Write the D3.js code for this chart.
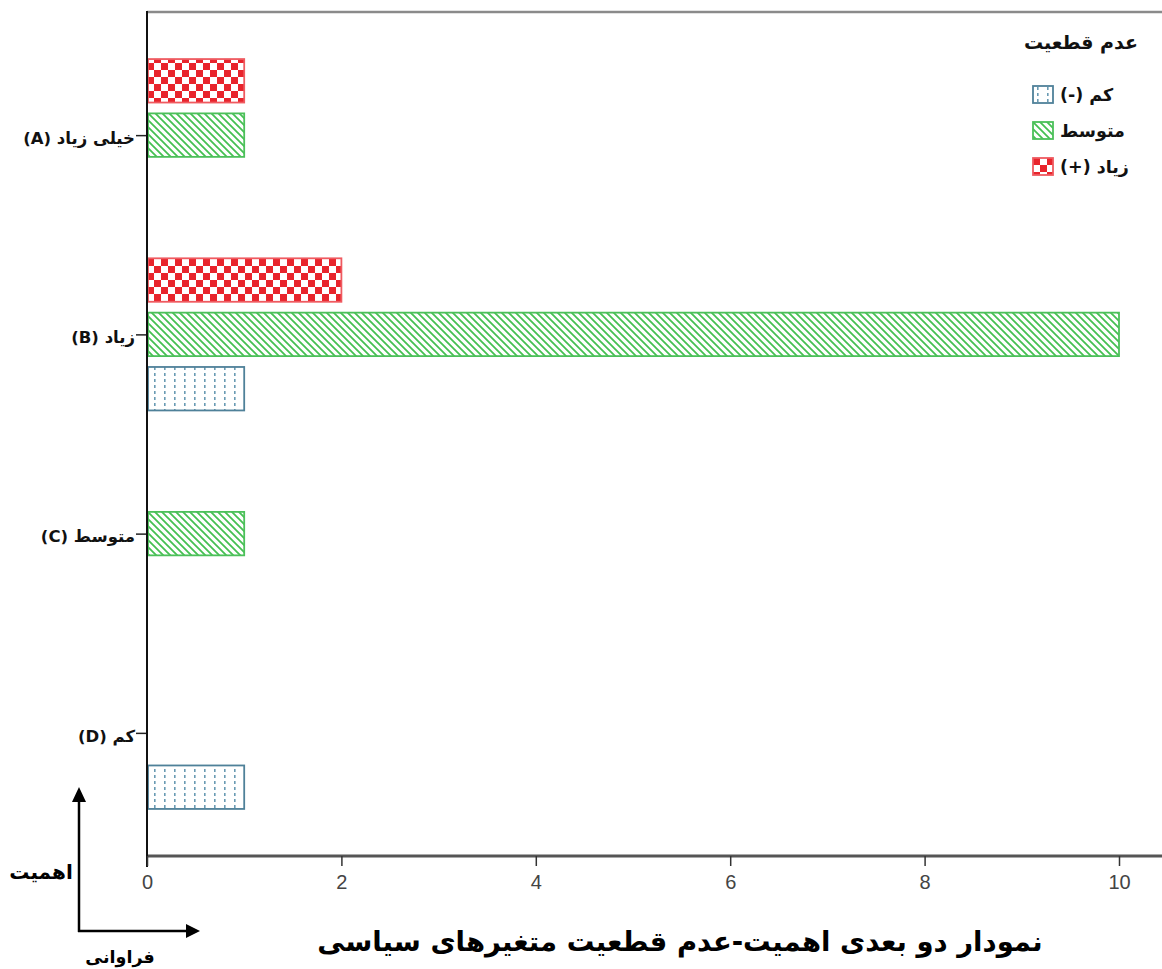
<!DOCTYPE html>
<html><head><meta charset="utf-8">
<script src="https://cdn.jsdelivr.net/npm/d3@7"></script>
<style>
body{margin:0;background:#fff;}
svg{display:block;}
</style></head>
<body>
<svg id="c" width="1162" height="969"></svg>
<script>
// ---- data ----
const categories = ["خیلی زیاد (A)", "زیاد (B)", "متوسط (C)", "کم (D)"];
const seriesNames = ["زیاد (+)", "متوسط", "کم (-)"];   // top-to-bottom within each category
const legendOrder = ["کم (-)", "متوسط", "زیاد (+)"];
const valuesHigh = [1, 2, 0, 0];     // زیاد (+)
const valuesMid  = [1, 10, 1, 0];    // متوسط
const valuesLow  = [0, 1, 0, 1];     // کم (-)
const xTicks = [0, 2, 4, 6, 8, 10];
const legendTitle = "عدم قطعیت";
const chartTitle = "نمودار دو بعدی اهمیت-عدم قطعیت متغیرهای سیاسی";
const yArrowLabel = "اهمیت";
const xArrowLabel = "فراوانی";

const seriesValues = {"زیاد (+)": valuesHigh, "متوسط": valuesMid, "کم (-)": valuesLow};

(function(){
const svg = d3.select("#c");
const defs = svg.append("defs");
const FA = "'DejaVu Sans', sans-serif";

// patterns
const pRed = defs.append("pattern").attr("id","pRed").attr("patternUnits","userSpaceOnUse")
  .attr("width",14).attr("height",14);
pRed.append("rect").attr("width",14).attr("height",14).attr("fill","#fff");
pRed.append("rect").attr("x",0).attr("y",0).attr("width",7).attr("height",7).attr("fill","#e8242c");
pRed.append("rect").attr("x",7).attr("y",7).attr("width",7).attr("height",7).attr("fill","#e8242c");

const pGreen = defs.append("pattern").attr("id","pGreen").attr("patternUnits","userSpaceOnUse")
  .attr("width",7).attr("height",7);
pGreen.append("rect").attr("width",7).attr("height",7).attr("fill","#fff");
pGreen.append("path").attr("d","M-1,-1 L8,8 M-8,-1 L1,8 M6,-1 L15,8").attr("stroke","#45c052").attr("stroke-width",1.8);

const pBlue = defs.append("pattern").attr("id","pBlue").attr("patternUnits","userSpaceOnUse")
  .attr("width",10).attr("height",6);
pBlue.append("rect").attr("width",10).attr("height",6).attr("fill","#fff");
pBlue.append("rect").attr("x",4).attr("y",1).attr("width",1.6).attr("height",3).attr("fill","#6a9bb3");

const fills = {"زیاد (+)": "url(#pRed)", "متوسط": "url(#pGreen)", "کم (-)": "url(#pBlue)"};
const strokes = {"زیاد (+)": "#ef5a60", "متوسط": "#4cc05a", "کم (-)": "#4f8199"};

// scales
const left = 147, plotTop = 12, plotBottom = 856;
const x = d3.scaleLinear().domain([0, 10]).range([left, 1119]);
const y = d3.scalePoint().domain(categories).range([plotTop, plotBottom]).padding(0.618);
const sub = d3.scaleBand().domain(seriesNames).range([-81.5, 81.5]).paddingInner(0.2).paddingOuter(0.1);

// frame lines
svg.append("line").attr("x1",left).attr("x2",1162).attr("y1",plotTop).attr("y2",plotTop)
  .attr("stroke","#8a8a8a").attr("stroke-width",2.5);
svg.append("line").attr("x1",left).attr("x2",1162).attr("y1",plotBottom).attr("y2",plotBottom)
  .attr("stroke","#555").attr("stroke-width",3);

// bars
const rows = [];
categories.forEach((c,i)=>{
  seriesNames.forEach(s=>{
    const v = seriesValues[s][i];
    if (v > 0) rows.push({c, s, v});
  });
});
svg.append("g").selectAll("rect").data(rows).join("rect")
  .attr("x", x(0)+1)
  .attr("y", d => y(d.c) + sub(d.s))
  .attr("width", d => x(d.v) - x(0) - 1)
  .attr("height", sub.bandwidth())
  .attr("fill", d => fills[d.s])
  .attr("stroke", d => strokes[d.s])
  .attr("stroke-width", 1.8);

// left axis
const yAxis = d3.axisLeft(y).tickSize(11).tickPadding(1);
const gy = svg.append("g").attr("transform",`translate(${left},0)`).call(yAxis);
gy.select(".domain").remove();
gy.selectAll(".tick line").attr("stroke","#222").attr("stroke-width",1.5);
gy.selectAll(".tick text")
  .attr("direction","rtl").attr("text-anchor","start")
  .attr("x",-12).attr("dy","0.5em")
  .attr("font-family",FA).attr("font-weight","bold")
  .attr("font-size",16.5).attr("fill","#111");
svg.append("line").attr("x1",left).attr("x2",left).attr("y1",plotTop-1).attr("y2",plotBottom+11)
  .attr("stroke","#111").attr("stroke-width",2);

// bottom axis
const xAxis = d3.axisBottom(x).tickValues(xTicks).tickSize(10).tickPadding(9).tickFormat(d3.format("d"));
const gx = svg.append("g").attr("transform",`translate(0,${plotBottom})`).call(xAxis);
gx.select(".domain").remove();
gx.selectAll(".tick line").attr("stroke","#333").attr("stroke-width",1.5);
gx.selectAll(".tick text").attr("font-family","'Liberation Sans Narrow','Liberation Sans',sans-serif")
  .attr("font-size",20).attr("fill","#444");

// legend
svg.append("text").attr("x",1138).attr("y",49).attr("direction","rtl").attr("text-anchor","start")
  .attr("font-family",FA).attr("font-weight","bold").attr("font-size",19)
  .attr("fill","#111").text(legendTitle);
const lg = svg.append("g").selectAll("g").data(legendOrder).join("g")
  .attr("transform",(d,i)=>`translate(1033,${86 + i*36})`);
lg.append("rect").attr("width",20).attr("height",17)
  .attr("fill",d=>fills[d]).attr("stroke",d=>strokes[d]).attr("stroke-width",1.8);
lg.append("text").attr("x",27).attr("y",15)
  .attr("direction","rtl").attr("text-anchor","end")
  .attr("font-family",FA).attr("font-weight","bold").attr("font-size",17.5)
  .attr("fill","#111").text(d=>d);

// arrows
svg.append("line").attr("x1",79).attr("x2",79).attr("y1",932).attr("y2",800)
  .attr("stroke","#000").attr("stroke-width",2.5);
svg.append("path").attr("d","M79,787 L72,802 L86,802 Z").attr("fill","#000");
svg.append("line").attr("x1",78).attr("x2",188).attr("y1",931).attr("y2",931)
  .attr("stroke","#000").attr("stroke-width",2.5);
svg.append("path").attr("d","M200,931 L186,924 L186,938 Z").attr("fill","#000");
svg.append("text").attr("x",41).attr("y",879).attr("text-anchor","middle")
  .attr("font-family",FA).attr("font-weight","bold").attr("font-size",20)
  .attr("fill","#000").text(yArrowLabel);
svg.append("text").attr("x",120).attr("y",963).attr("text-anchor","middle")
  .attr("font-family",FA).attr("font-weight","bold").attr("font-size",17.5)
  .attr("fill","#000").text(xArrowLabel);

// title
svg.append("text").attr("x",680).attr("y",951).attr("text-anchor","middle")
  .attr("font-family",FA).attr("font-weight","bold").attr("font-size",27.5)
  .attr("fill","#000").text(chartTitle);
})();
</script>
</body></html>
